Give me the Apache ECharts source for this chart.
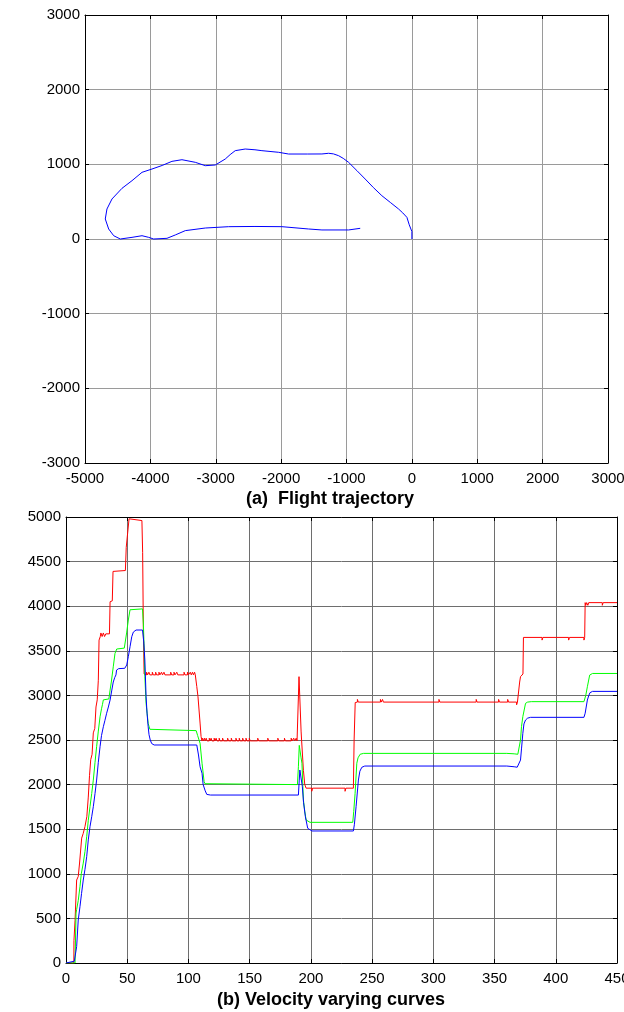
<!DOCTYPE html>
<html>
<head>
<meta charset="utf-8">
<script src="https://cdn.jsdelivr.net/npm/echarts@6/dist/echarts.min.js"></script>
<style>
html,body{margin:0;padding:0;background:#fff;}
#c{width:624px;height:1012px;}
</style>
</head>
<body>
<div id="c"></div>
<script>
// ---------- Data ----------
const titleA = '(a)  Flight trajectory';
const titleB = '(b) Velocity varying curves';

// Flight trajectory (x, y) in metres
const trajectory = [
  [0,0],[0,100],[-40,190],[-76,290],[-140,350],[-204,402],[-330,490],[-459,580],[-590,690],[-714,803],[-840,915],[-968,1027],[-1050,1080],[-1121,1116],[-1200,1140],[-1274,1148],[-1376,1139],[-1600,1138],[-1886,1138],[-2038,1161],[-2294,1183],[-2400,1195],[-2549,1205],[-2702,1183],[-2780,1130],[-2855,1071],[-3007,991],[-3160,982],[-3313,1027],[-3517,1062],[-3670,1040],[-3820,985],[-3976,937],[-4128,893],[-4281,781],[-4434,679],[-4587,536],[-4664,402],[-4690,268],[-4638,134],[-4561,44],[-4460,0],[-4281,22],[-4128,44],[-4026,22],[-3950,0],[-3746,9],[-3619,54],[-3466,112],[-3160,147],[-2803,165],[-2400,168],[-1988,165],[-1580,134],[-1376,121],[-968,121],[-790,143]
];

// Velocity curves (time, velocity)
const redVel = [
  [0,0],[6.4,0],[6.5,250],[7.4,480],[8.7,930],[10,970],[11,1110],[12.8,1400],[14,1450],[15.5,1530],[17,1640],[18.2,1860],[19.2,2100],[20.2,2280],[21.3,2340],[22.3,2580],[23.5,2630],[24.5,2870],[25.5,2950],[26.4,3170],[27,3620],[28,3660],[28.5,3700],[29.5,3660],[30.5,3700],[31.5,3660],[32.5,3690],[35.5,3690],[36,4050],[37.8,4060],[38.4,4390],[48.5,4400],[49.2,4660],[50.6,4670],[51.5,4980],[52,5000],[53,4960],[62,4960],[62.6,4600],[63.2,3700],[63.8,3240],[64.5,3230],
  [65.8,3230],[65.8,3260],[66.6,3260],[66.6,3230],
  [67.7,3230],[67.7,3260],[68.5,3260],[68.5,3230],
  [70.5,3230],[70.5,3260],[71.3,3260],[71.3,3230],
  [73.2,3230],[73.2,3260],[74,3260],[74,3230],
  [75.9,3230],[75.9,3260],[76.7,3260],[76.7,3230],
  [78,3230],[78,3260],[78.8,3260],[78.8,3230],
  [80,3230],[80,3260],[80.8,3260],[80.8,3230],
  [85.5,3230],[85.5,3260],[86.3,3260],[86.3,3230],
  [88.2,3230],[88.2,3260],[89,3260],[89,3230],
  [90.5,3230],[90.5,3260],[91.3,3260],[91.3,3230],
  [96.4,3230],[96.4,3260],[97.2,3260],[97.2,3230],
  [99.2,3230],[99.2,3260],[100,3260],[100,3230],
  [101.5,3230],[101.5,3260],[102.3,3260],[102.3,3230],
  [103.3,3230],[103.3,3260],[104.1,3260],[104.1,3230],
  [105,3230],[105,3260],[105.6,3260],[105.6,3230],
  [105.9,3230],[106.8,3100],[107.8,2985],[109.5,2690],[110.3,2540],[111,2490],
  [111.5,2490],[111.5,2520],[112.2,2520],[112.2,2490],
  [113,2490],[113,2520],[113.7,2520],[113.7,2490],
  [114.5,2490],[114.5,2520],[115.2,2520],[115.2,2490],
  [117,2490],[117,2520],[117.7,2520],[117.7,2490],
  [118.5,2490],[118.5,2520],[119.2,2520],[119.2,2490],
  [121,2490],[121,2520],[121.7,2520],[121.7,2490],
  [122.6,2490],[122.6,2520],[123.3,2520],[123.3,2490],
  [125.1,2490],[125.1,2520],[125.8,2520],[125.8,2490],
  [127.9,2490],[127.9,2520],[128.6,2520],[128.6,2490],
  [132,2490],[132,2520],[132.7,2520],[132.7,2490],
  [135,2490],[135,2520],[135.7,2520],[135.7,2490],
  [138.8,2490],[138.8,2520],[139.5,2520],[139.5,2490],
  [141.5,2490],[141.5,2520],[142.2,2520],[142.2,2490],
  [144.3,2490],[144.3,2520],[145,2520],[145,2490],
  [147,2490],[147,2520],[147.7,2520],[147.7,2490],
  [149.7,2490],[149.7,2520],[150.4,2520],[150.4,2490],
  [156.6,2490],[156.6,2520],[157.3,2520],[157.3,2490],
  [164.8,2490],[164.8,2520],[165.5,2520],[165.5,2490],
  [173,2490],[173,2520],[173.7,2520],[173.7,2490],
  [178.4,2490],[178.4,2520],[179.1,2520],[179.1,2490],
  [183.9,2490],[183.9,2520],[184.6,2520],[184.6,2490],
  [186,2490],[186,2520],[186.7,2520],[186.7,2490],
  [188,2490],[188,2520],[188.7,2520],[188.7,2490],
  [189.8,2490],[190.3,3210],[191.5,3210],[192,2600],[192.4,2500],[193.9,2160],[195,2000],[196.1,1960],
  [200.7,1960],[200.7,1925],[201.4,1925],[201.4,1960],
  [227.9,1960],[227.9,1925],[228.6,1925],[228.6,1960],
  [234.7,1960],[235.3,2500],[236.2,2920],[237,2925],
  [238,2925],[238,2955],[238.7,2955],[238.7,2925],
  [256.8,2925],[256.8,2955],[257.5,2955],[257.5,2925],
  [258.5,2925],[258.5,2955],[259.2,2955],[259.2,2925],
  [304.6,2925],[304.6,2955],[305.3,2955],[305.3,2925],
  [335,2925],[335,2955],[335.7,2955],[335.7,2925],
  [353.3,2925],[353.3,2955],[354,2955],[354,2925],
  [360.7,2925],[360.7,2955],[361.4,2955],[361.4,2925],
  [368,2925],[368,2895],[368.7,2895],[368.7,2925],
  [369.5,2925],[370.5,3150],[371.2,3210],[373.2,3240],[373.6,3650],
  [388.8,3650],[388.8,3620],[389.5,3620],[389.5,3650],
  [410.5,3650],[410.5,3620],[411.2,3620],[411.2,3650],
  [423,3650],[423,3620],[423.4,3620],[423.6,3650],[424,4040],
  [424.5,4040],[424.5,4010],[425.2,4010],[425.2,4040],
  [426.2,4040],[426.2,4010],[426.9,4010],[426.9,4040],
  [438,4040],[438,4010],[438.7,4010],[438.7,4040],
  [450,4040]
];

const greenVel = [
  [0,0],[7.4,0],[8.2,560],[8.7,600],[10,700],[11.4,855],[12.5,1000],[14.1,1120],[15.5,1250],[16.9,1416],[18.2,1600],[19.6,1752],[21,1900],[22.3,2050],[23.7,2250],[25,2425],[26.4,2600],[27.8,2760],[29,2850],[29.8,2900],[30.5,2950],[35,2960],[36,3060],[37,3150],[38.6,3320],[40,3470],[41.4,3520],[47.6,3530],[48.2,3546],[49.5,3700],[50.9,3845],[52.3,3960],[53.8,3970],[62.5,3970],[63.2,3800],[63.7,3584],[64.4,3210],[65.4,2911],[67.1,2687],[68.5,2620],[69.7,2610],[106.3,2605],[107.5,2550],[109.5,2463],[111.1,2239],[112.8,2033],[113.5,2010],[115,2000],[189,2000],[189.8,2200],[190.5,2440],[191.2,2450],[192,2300],[192.7,2240],[193.9,1827],[195,1700],[196.1,1603],[197.5,1585],[199.3,1577],[234.2,1577],[235,1700],[236.1,1902],[237.5,2239],[238.5,2300],[240.2,2340],[243,2350],[360,2350],[366,2345],[369,2340],[369.5,2350],[371.2,2500],[372,2650],[373.1,2762],[375.3,2911],[377,2925],[380,2930],[423,2930],[424.5,3000],[425.8,3097],[427.7,3228],[430,3246],[450,3246]
];

const blueVel = [
  [0,0],[0.5,20],[6.8,20],[7.4,0],[8.7,183],[10,482],[11.4,631],[12.7,780],[14.1,930],[15.5,1050],[16.9,1192],[18.2,1380],[19.6,1528],[21,1640],[22.3,1752],[23.7,1900],[25,2051],[26.4,2250],[27.8,2425],[29,2550],[30.5,2649],[31.8,2720],[33.2,2800],[34.6,2870],[36,2948],[37.3,3050],[38.6,3150],[39.8,3200],[40.8,3230],[41.3,3284],[43,3300],[48,3304],[49.6,3341],[50.9,3434],[52.3,3546],[53.7,3658],[55,3710],[57.2,3733],[62.5,3733],[63.5,3600],[64.4,3397],[65.4,2985],[66.2,2800],[67.1,2649],[67.8,2560],[68.8,2500],[70,2460],[72,2444],[106.8,2444],[108.2,2332],[109.5,2200],[111.1,2127],[112,2000],[113.7,1930],[115,1890],[118,1883],[189.8,1883],[190.5,2050],[191,2163],[191.5,2150],[193,1980],[194,1800],[195.5,1640],[197.4,1510],[199,1490],[200.9,1480],[234.7,1480],[235.5,1550],[236.9,1752],[238.8,2051],[240,2150],[241.6,2194],[244,2208],[360,2208],[366,2200],[368.5,2195],[369.5,2210],[371.2,2275],[372,2400],[373.1,2575],[374,2680],[375.3,2724],[377,2745],[379.4,2754],[423,2754],[424,2800],[425.8,2948],[427,3000],[427.9,3030],[430,3045],[450,3045]
];

// ---------- Chart ----------
const font = 'Liberation Sans, Arial, Helvetica, sans-serif';
const lbl = {color:'#000', fontFamily:font, fontSize:15, formatter:function(v){return String(v);}};

function boxAxis(type, pos, gi, min, max, interval, showLabel, gridColor, margin){
  return {
    type:'value', gridIndex:gi, position:pos, min:min, max:max, interval:interval,
    axisLine:{show:true, onZero:false, lineStyle:{color:'#000', width:1}},
    axisTick:{show:true, inside:true, length:4, lineStyle:{color:'#000'}},
    axisLabel: showLabel ? Object.assign({show:true, margin:margin, hideOverlap:false}, lbl) : {show:false},
    splitLine: showLabel ? {show:true, lineStyle:{color:gridColor, width:1}} : {show:false}
  };
}

const chart = echarts.init(document.getElementById('c'), null, {renderer:'canvas'});
chart.setOption({
  animation:false,
  backgroundColor:'#fff',
  title:[
    {text:titleA, left:330, top:490, textAlign:'center', padding:0,
     textStyle:{fontFamily:font, fontWeight:'bold', fontSize:18, color:'#000'}},
    {text:titleB, left:331, top:991, textAlign:'center', padding:0,
     textStyle:{fontFamily:font, fontWeight:'bold', fontSize:18, color:'#000'}}
  ],
  grid:[
    {left:85, top:15, width:523, height:448, containLabel:false, outerBoundsMode:'none'},
    {left:66, top:517, width:551, height:446, containLabel:false, outerBoundsMode:'none'}
  ],
  xAxis:[
    boxAxis('x','bottom',0,-5000,3000,1000,true,'#9a9a9a',8),
    boxAxis('x','top',0,-5000,3000,1000,false),
    boxAxis('x','bottom',1,0,450,50,true,'#6e6e6e',8),
    boxAxis('x','top',1,0,450,50,false)
  ],
  yAxis:[
    boxAxis('y','left',0,-3000,3000,1000,true,'#9a9a9a',5),
    boxAxis('y','right',0,-3000,3000,1000,false),
    boxAxis('y','left',1,0,5000,500,true,'#6e6e6e',5),
    boxAxis('y','right',1,0,5000,500,false)
  ],
  series:[
    {type:'line', xAxisIndex:0, yAxisIndex:0, data:trajectory, showSymbol:false, symbol:'none',
     lineStyle:{color:'#0000ff', width:1}, z:5},
    {type:'line', xAxisIndex:2, yAxisIndex:2, data:redVel, showSymbol:false, symbol:'none',
     lineStyle:{color:'#ff0000', width:1}, z:5},
    {type:'line', xAxisIndex:2, yAxisIndex:2, data:greenVel, showSymbol:false, symbol:'none',
     lineStyle:{color:'#00ff00', width:1}, z:6},
    {type:'line', xAxisIndex:2, yAxisIndex:2, data:blueVel, showSymbol:false, symbol:'none',
     lineStyle:{color:'#0000ff', width:1}, z:7}
  ]
});
</script>
</body>
</html>
